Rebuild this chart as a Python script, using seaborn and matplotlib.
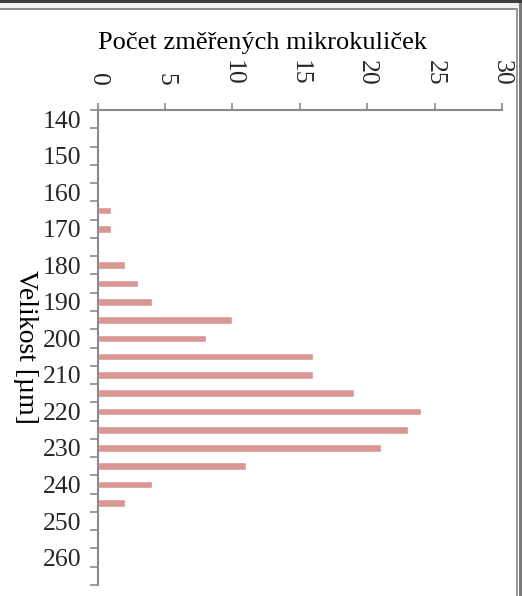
import matplotlib
matplotlib.use("Agg")
import matplotlib.pyplot as plt
import seaborn as sns
import pandas as pd
from matplotlib.patches import Rectangle

# Size classes of the measured microbeads [µm] and their counts
sizes = [140, 145, 150, 155, 160, 165, 170, 175, 180, 185, 190, 195, 200,
         205, 210, 215, 220, 225, 230, 235, 240, 245, 250, 255, 260, 265]
counts = [0, 0, 0, 0, 0, 1, 1, 0, 2, 3, 4, 10, 8,
          16, 16, 19, 24, 23, 21, 11, 4, 2, 0, 0, 0, 0]
count_ticks = [0, 5, 10, 15, 20, 25, 30]
size_labels = [str(s) if s % 10 == 0 else "" for s in sizes]

sns.set_theme(style="white")
plt.rcParams["font.family"] = ["Liberation Serif", "DejaVu Serif"]

W, H = 522, 596
fig = plt.figure(figsize=(W / 100, H / 100), dpi=100)
fig.patch.set_facecolor("white")

# plot area in pixel terms
x0, x1, ytop, ybot = 97.7, 502.0, 110.0, 585.0
ax = fig.add_axes([x0 / W, 1 - ybot / H, (x1 - x0) / W, (ybot - ytop) / H])

df = pd.DataFrame({"Velikost": [str(s) for s in sizes], "Pocet": counts})
sns.barplot(data=df, x="Pocet", y="Velikost", order=[str(s) for s in sizes],
            color="#D99694", saturation=1, width=0.42, ax=ax)

axis_grey = "#8a8a8a"
fs = 18.5

ax.set_xlim(0, 30)
ax.set_ylim(len(sizes) - 0.5, -0.5)
ax.set_xlabel("")
ax.set_ylabel("")

# count axis along the top
ax.xaxis.tick_top()
ax.set_xticks(count_ticks)
ax.set_xticklabels([str(t) for t in count_ticks])
ax.tick_params(axis="x", which="major", direction="out", length=4.8, width=1.2,
               color=axis_grey, pad=12.5, labelsize=fs, labelrotation=-90,
               top=True, bottom=False)

# size classes: labels on every other class, ticks on class boundaries
ax.set_yticks(range(len(sizes)))
ax.set_yticklabels(size_labels)
ax.set_yticks([i - 0.5 for i in range(len(sizes) + 1)], minor=True)
ax.tick_params(axis="y", which="major", length=0, pad=12, labelsize=fs)
ax.tick_params(axis="y", which="minor", direction="out", length=5.5, width=1.2,
               color=axis_grey, left=True)

for side in ("right", "bottom"):
    ax.spines[side].set_visible(False)
for side in ("left", "top"):
    ax.spines[side].set_color(axis_grey)
    ax.spines[side].set_linewidth(1.5)
ax.grid(False)

fig.text(262.5 / W, 1 - 43 / H, "Počet změřených mikrokuliček",
         ha="center", va="center", fontsize=19, color="black")
fig.text(25 / W, 1 - 347 / H, "Velikost [µm]", rotation=-90,
         ha="center", va="center", fontsize=20, color="black")

# window frame around the chart
def px_rect(x, y, w, h, color):
    fig.add_artist(Rectangle((x / W, 1 - (y + h) / H), w / W, h / H,
                             transform=fig.transFigure, facecolor=color,
                             edgecolor="none", zorder=10))

px_rect(0, 0, W, 3, "#3c3c3c")
px_rect(0, 3, W, 5, "#f0f0f0")
px_rect(0, 8, 518, 2, "#8c8c8c")
px_rect(516, 8, 2, H - 8, "#9a9a9a")
px_rect(519, 3, 3, H - 3, "#7a7a7a")

fig.savefig("out.png", dpi=100)
